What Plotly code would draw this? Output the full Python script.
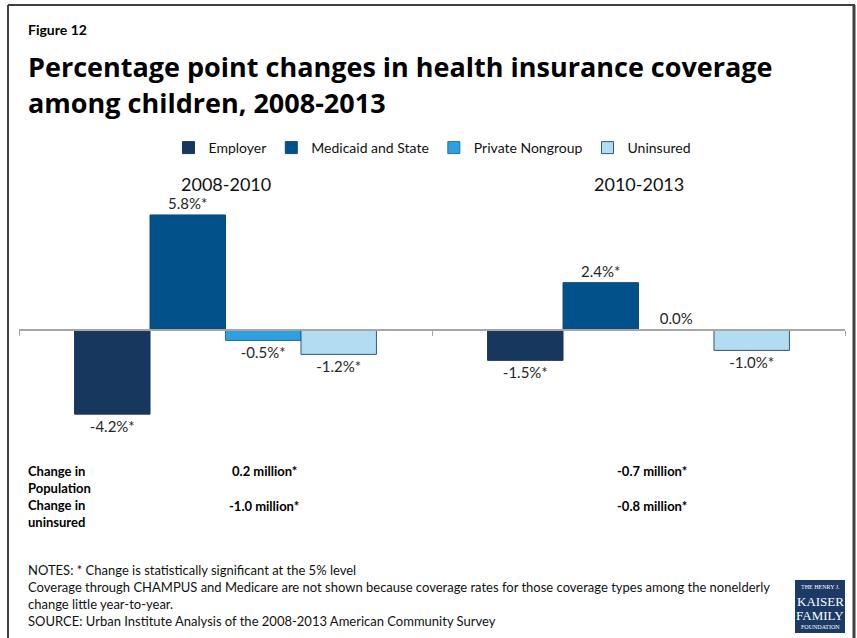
import plotly.graph_objects as go

# ---------------- data ----------------
periods = ["2008-2010", "2010-2013"]
series_names = ["Employer", "Medicaid and State", "Private Nongroup", "Uninsured"]
employer = [-4.2, -1.5]
medicaid = [5.8, 2.4]
private_ng = [-0.5, 0.0]
uninsured = [-1.2, -1.0]
employer_lbl = ["-4.2%*", "-1.5%*"]
medicaid_lbl = ["5.8%*", "2.4%*"]
private_lbl = ["-0.5%*", "0.0%"]
uninsured_lbl = ["-1.2%*", "-1.0%*"]
pop_change = ["0.2 million*", "-0.7 million*"]
unins_change = ["-1.0 million*", "-0.8 million*"]

colors = ["#17375e", "#03518a", "#2fa0df", "#b1dcf1"]
outline = ["#17375e", "#0b4a7c", "#1f6fa8", "#2c5a85"]

W, H = 857, 638
ML, MR, MT, MB = 19, 12, 199, 188
YMIN, YMAX = -6.0, 6.6
PW, PH = W - ML - MR, H - MT - MB


def px2x(px):
    return (px - ML) / PW


def py2y(py):
    return 1 - (py - MT) / PH


FONT = "Lato"
TFONT = "Open Sans"

fig = go.Figure()
vals = [employer, medicaid, private_ng, uninsured]
lbls = [employer_lbl, medicaid_lbl, private_lbl, uninsured_lbl]
for name, v, lb, c, oc in zip(series_names, vals, lbls, colors, outline):
    fig.add_trace(go.Bar(
        name=name, x=periods, y=v, text=lb, textposition="outside",
        textfont=dict(size=15, color="#262626", family=FONT),
        marker=dict(color=c, line=dict(color=oc, width=1)),
        cliponaxis=False,
    ))

zero_pos = (0 - YMIN) / (YMAX - YMIN)

annotations = []
# group labels
for p in periods:
    annotations.append(dict(x=p, xref="x", y=py2y(184), yref="paper", text=p,
                            showarrow=False, font=dict(size=18, color="#111111", family=FONT),
                            xanchor="center", yanchor="middle"))
# header
annotations.append(dict(x=px2x(26), xref="paper", y=py2y(29), yref="paper",
                        text="<b>Figure 12</b>", showarrow=False, xanchor="left", yanchor="middle",
                        font=dict(size=14, color="#000000", family=FONT)))
for line, py in [("Percentage point changes in health insurance coverage", 66),
                 ("among children, 2008-2013", 103)]:
    annotations.append(dict(x=px2x(26), xref="paper", y=py2y(py), yref="paper",
                            text=f"<b>{line}</b>", showarrow=False, xanchor="left", yanchor="middle",
                            font=dict(size=27, color="#000000", family=TFONT)))
# bottom rows
row_font = dict(size=13, color="#000000", family=FONT)
annotations.append(dict(x=px2x(26), xref="paper", y=py2y(479), yref="paper",
                        text="<b>Change in<br>Population</b>", showarrow=False, xanchor="left",
                        yanchor="middle", align="left", font=row_font))
annotations.append(dict(x=px2x(26), xref="paper", y=py2y(513), yref="paper",
                        text="<b>Change in<br>uninsured</b>", showarrow=False, xanchor="left",
                        yanchor="middle", align="left", font=row_font))
for cx, a, b in zip([264, 652], pop_change, unins_change):
    annotations.append(dict(x=px2x(cx), xref="paper", y=py2y(471), yref="paper", text=f"<b>{a}</b>",
                            showarrow=False, xanchor="center", yanchor="middle", font=row_font))
    annotations.append(dict(x=px2x(cx), xref="paper", y=py2y(506), yref="paper", text=f"<b>{b}</b>",
                            showarrow=False, xanchor="center", yanchor="middle", font=row_font))
# notes
notes = ["NOTES: * Change is statistically significant at the 5% level",
         "Coverage through CHAMPUS and Medicare are not shown because coverage rates for those coverage types among the nonelderly",
         "change little year-to-year.",
         "SOURCE: Urban Institute Analysis of the 2008-2013 American Community Survey"]
for i, t in enumerate(notes):
    annotations.append(dict(x=px2x(26), xref="paper", y=py2y(570 + 17 * i), yref="paper", text=t,
                            showarrow=False, xanchor="left", yanchor="middle", align="left",
                            font=dict(size=13, color="#111111", family=FONT)))
# logo text
serif = "Liberation Serif"
for txt, py, sz in [("THE HENRY J.", 587, 6), ("KAISER", 601, 13), ("FAMILY", 615, 13), ("FOUNDATION", 627, 6)]:
    annotations.append(dict(x=px2x(820), xref="paper", y=py2y(py), yref="paper", text=txt,
                            showarrow=False, xanchor="center", yanchor="middle",
                            font=dict(size=sz, color="#ffffff", family=serif)))

shapes = [
    # logo box
    dict(type="rect", xref="paper", yref="paper", x0=px2x(795), x1=px2x(845),
         y0=py2y(633), y1=py2y(580), fillcolor="#1b3a66", line=dict(width=0), layer="below"),
    # frame
    dict(type="line", xref="paper", yref="paper", x0=px2x(8), x1=px2x(8), y0=py2y(5), y1=py2y(645),
         line=dict(color="#404040", width=2)),
    dict(type="line", xref="paper", yref="paper", x0=px2x(8), x1=px2x(855), y0=py2y(5), y1=py2y(5),
         line=dict(color="#404040", width=2)),
    dict(type="line", xref="paper", yref="paper", x0=px2x(854), x1=px2x(854), y0=py2y(5), y1=py2y(645),
         line=dict(color="#404040", width=3)),
]

fig.update_layout(
    width=W, height=H,
    margin=dict(l=ML, r=MR, t=MT, b=MB, pad=0),
    paper_bgcolor="white", plot_bgcolor="white",
    barmode="group", bargap=0.269, bargroupgap=0,
    font=dict(family=FONT, color="#111111"),
    showlegend=True,
    legend=dict(orientation="h", x=0.5, xanchor="center", y=py2y(148), yanchor="middle",
                font=dict(size=14, color="#111111", family=FONT), itemwidth=30,
                traceorder="normal", bgcolor="rgba(0,0,0,0)"),
    xaxis=dict(anchor="free", position=zero_pos, showline=True, linecolor="#a6a6a6", linewidth=1.5,
               ticks="outside", tickson="boundaries", ticklen=5, tickcolor="#a6a6a6", tickwidth=1,
               showticklabels=False, showgrid=False, zeroline=False, fixedrange=True),
    yaxis=dict(range=[YMIN, YMAX], visible=False, showgrid=False, zeroline=False, fixedrange=True),
    annotations=annotations, shapes=shapes,
)

fig.write_html("out.html", config={"displayModeBar": False},
               post_script="document.body.style.margin='0px';")
